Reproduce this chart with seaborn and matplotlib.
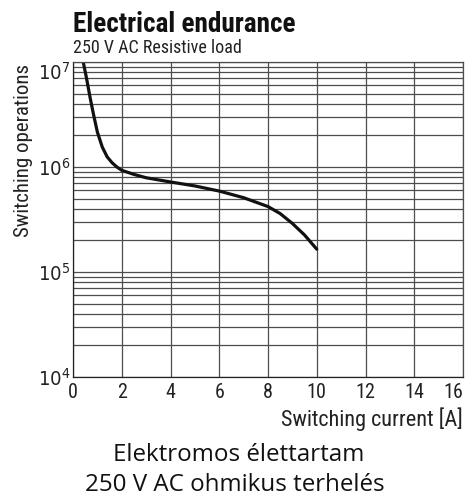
import numpy as np
import matplotlib
matplotlib.use("Agg")
import matplotlib.pyplot as plt
import seaborn as sns
from matplotlib.ticker import LogLocator, FixedLocator, NullFormatter

# curve
current = [0.42, 0.55, 0.7, 0.85, 1.0, 1.2, 1.4, 1.6, 1.8, 2.0, 2.5, 3.0, 4.0, 5.0, 6.0, 7.0,
           8.0, 8.5, 9.0, 9.5, 10.0]
operations = [1.0e7, 7.1e6, 4.6e6, 3.1e6, 2.15e6, 1.55e6, 1.25e6, 1.1e6, 1.0e6, 0.93e6, 0.85e6,
              0.79e6, 0.72e6, 0.66e6, 0.59e6, 0.51e6, 0.42e6, 0.36e6, 0.29e6, 0.225e6, 0.165e6]

x_ticks = [0, 2, 4, 6, 8, 10, 12, 14, 16]
y_ticks = [1e4, 1e5, 1e6, 1e7]
y_labels = ["$10^4$", "$10^5$", "$10^6$", "$10^7$"]

sns.set_style("white")
narrow = ["Roboto Condensed", "Liberation Sans Narrow", "DejaVu Sans Condensed",
          "Open Sans Condensed", "DejaVu Sans"]
plt.rcParams["font.family"] = narrow
plt.rcParams["font.stretch"] = "condensed"
plt.rcParams["mathtext.fontset"] = "custom"
plt.rcParams["mathtext.rm"] = "DejaVu Sans:stretch=condensed"
plt.rcParams["mathtext.it"] = "DejaVu Sans:stretch=condensed"

fig = plt.figure(figsize=(4.69, 4.96), dpi=100)
ax = fig.add_axes([73 / 469, 1 - 377 / 496, 390 / 469, 315 / 496])

sns.lineplot(x=current, y=operations, ax=ax, color="#111111", linewidth=2.3)

ax.set_yscale("log")
ax.set_xlim(0, 16)
ax.set_ylim(1e4, 1e7)
ax.xaxis.set_major_locator(FixedLocator(x_ticks))
ax.yaxis.set_major_locator(FixedLocator(y_ticks))
ax.yaxis.set_minor_locator(LogLocator(base=10, subs=np.arange(2, 10)))
ax.yaxis.set_minor_formatter(NullFormatter())
ax.set_yticklabels(y_labels)

grid_col = "#4d4d4d"
ax.grid(True, which="major", axis="x", color=grid_col, linewidth=0.9)
ax.grid(True, which="both", axis="y", color=grid_col, linewidth=0.9)
for s in ax.spines.values():
    s.set_color(grid_col)
    s.set_linewidth(0.9)
ax.spines["left"].set_color("#222222")
ax.spines["bottom"].set_color("#222222")

ax.tick_params(axis="both", which="both", length=0, labelsize=14.5, colors="#222222")
ax.tick_params(axis="x", pad=4)
ax.tick_params(axis="y", pad=2)
xl = ax.get_xticklabels()
xl[-1].set_horizontalalignment("right")
xl[-1].set_x(16.05)
yl = ax.get_yticklabels()
yl[-1].set_verticalalignment("top")

ax.set_xlabel("Switching current [A]", fontsize=16, color="#222222")
ax.xaxis.set_label_coords(1.0, -0.095)
ax.xaxis.label.set_horizontalalignment("right")
ax.set_ylabel("Switching operations", fontsize=15, color="#222222")
ax.yaxis.set_label_coords(-0.103, 0.72)

fig.text(73 / 469, 1 - 32 / 496, "Electrical endurance", fontsize=19.6, fontweight="bold",
         va="baseline", ha="left", color="#111111")
fig.text(73 / 469, 1 - 53 / 496, "250 V AC Resistive load", fontsize=13,
         va="baseline", ha="left", color="#222222")

cap_font = ["Open Sans", "DejaVu Sans"]
fig.text(239 / 469, 1 - 461 / 496, "Elektromos élettartam", fontsize=17.4, ha="center",
         va="baseline", family=cap_font, stretch="normal", color="#111111")
fig.text(235 / 469, 1 - 491 / 496, "250 V AC ohmikus terhelés", fontsize=17.4, ha="center",
         va="baseline", family=cap_font, stretch="normal", color="#111111")

fig.savefig("out.png", dpi=100)
